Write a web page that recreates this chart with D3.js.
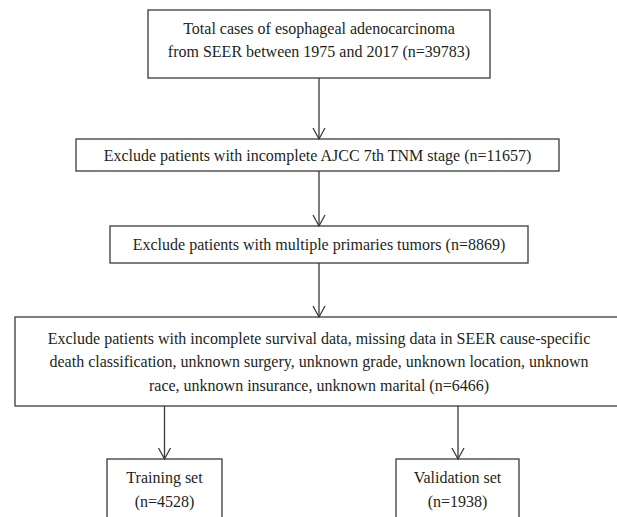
<!DOCTYPE html>
<html>
<head>
<meta charset="utf-8">
<script src="https://cdn.jsdelivr.net/npm/d3@7"></script>
<style>
  html, body { margin: 0; padding: 0; background: #fff; }
  svg { display: block; }
</style>
</head>
<body>
<script>
// flow chart data: text of each step and the n that goes with it
const stepLines = [
  ["Total cases of esophageal adenocarcinoma", "from SEER between 1975 and 2017"],
  ["Exclude patients with incomplete AJCC 7th TNM stage"],
  ["Exclude patients with multiple primaries tumors"],
  ["Exclude patients with incomplete survival data, missing data in SEER cause-specific",
   "death classification, unknown surgery, unknown grade, unknown location, unknown",
   "race, unknown insurance, unknown marital"]
];
const stepCounts = [39783, 11657, 8869, 6466];
const splitNames = ["Training set", "Validation set"];
const splitCounts = [4528, 1938];

const W = 617, H = 517;
const lineColor = "#3a3a3a", textColor = "#231f20";
const fontFamily = "'Liberation Serif', 'DejaVu Serif', serif";
const fontSize = 16;
const lineGap = 23.5;

// box layout: left, right, top, bottom, y of first text line
const stepBoxes = [
  [148, 490, 10, 78, 28],
  [76, 559, 139, 171, 155],
  [110, 528, 226, 263, 244.5],
  [15, 623, 317, 406, 338]
];
const splitBoxes = [
  [107, 222, 459, 530, 477.5],
  [396, 519, 459, 530, 477.5]
];
const mainX = 319;
const splitX = [164.5, 458];

const svg = d3.select("body").append("svg")
  .attr("width", W).attr("height", H)
  .attr("viewBox", `0 0 ${W} ${H}`);

function withN(lines, n) {
  const out = lines.slice();
  out[out.length - 1] = out[out.length - 1] + ` (n=${n})`;
  return out;
}

function drawBox(box, lines) {
  const [x0, x1, y0, y1, ty] = box;
  const g = svg.append("g");
  g.append("rect")
    .attr("x", x0).attr("y", y0)
    .attr("width", x1 - x0).attr("height", y1 - y0)
    .attr("fill", "none")
    .attr("stroke", lineColor)
    .attr("stroke-width", 1.3);
  g.selectAll("text")
    .data(lines)
    .join("text")
      .attr("x", (x0 + x1) / 2)
      .attr("y", (d, i) => ty + i * lineGap)
      .attr("dy", "0.35em")
      .attr("text-anchor", "middle")
      .attr("font-family", fontFamily)
      .attr("font-size", fontSize)
      .attr("fill", textColor)
      .text(d => d);
}

function drawArrow(x, yFrom, yTo) {
  svg.append("line")
    .attr("x1", x).attr("x2", x)
    .attr("y1", yFrom).attr("y2", yTo)
    .attr("stroke", lineColor).attr("stroke-width", 1.3);
  svg.append("path")
    .attr("d", `M${x - 6},${yTo - 11} L${x},${yTo} L${x + 6},${yTo - 11}`)
    .attr("fill", "none")
    .attr("stroke", lineColor).attr("stroke-width", 1.3);
}

stepLines.forEach((lines, i) => drawBox(stepBoxes[i], withN(lines, stepCounts[i])));
splitNames.forEach((name, i) => drawBox(splitBoxes[i], [name, `(n=${splitCounts[i]})`]));

// arrows between steps, then down to the two sets
for (let i = 0; i < stepBoxes.length - 1; i++) {
  drawArrow(mainX, stepBoxes[i][3], stepBoxes[i + 1][2]);
}
splitX.forEach((x, i) => drawArrow(x, stepBoxes[3][3], splitBoxes[i][2]));
</script>
</body>
</html>
